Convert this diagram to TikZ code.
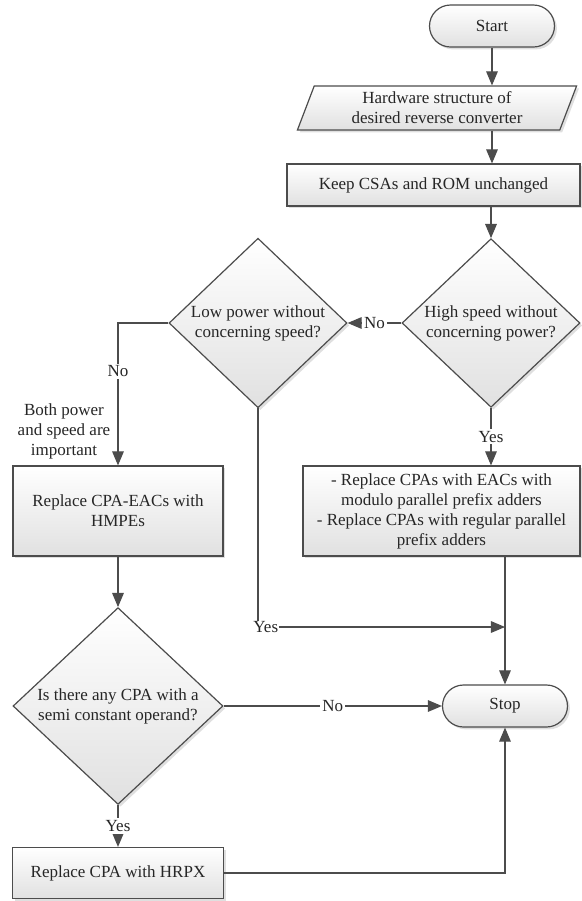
\documentclass[tikz,border=0pt]{standalone}
\usepackage{fontspec}
\setmainfont{Liberation Serif}
\usetikzlibrary{arrows,positioning,calc,shapes.geometric,shadows}
\definecolor{linegray}{gray}{0.3}
\tikzstyle{base}=[draw=linegray,line width=0.6pt,top color=white,bottom color=black!12,drop shadow={shadow xshift=1.2pt,shadow yshift=-1.2pt,opacity=0.25},text=black!85,font=\fontsize{8.5}{10}\selectfont,align=center,inner sep=0pt]
\tikzstyle{terminal}=[base,rectangle,rounded corners=10.5pt,minimum width=62.5pt,minimum height=21pt]
\tikzstyle{inout}=[base,trapezium,trapezium left angle=70,trapezium right angle=110,trapezium stretches=true,minimum width=141pt,minimum height=22pt]
\tikzstyle{process}=[base,rectangle]
\tikzstyle{decision}=[base,diamond]
\tikzstyle{lbl}=[fill=white,inner sep=1pt,text=black!85,font=\fontsize{8.5}{10}\selectfont,align=center]
\tikzstyle{line}=[draw=linegray,line width=0.6pt]
\tikzstyle{arrow}=[line,-triangle 45]

\begin{document}
\begin{tikzpicture}[x=0.5pt,y=-0.5pt]
\useasboundingbox (0,0) rectangle (582,901);
\node [terminal] (start) at (492,26) {Start};
\node [inout] (hw) at (437,108) {Hardware structure of\\desired reverse converter};
\node [process,minimum width=146.5pt,minimum height=21pt] (keep) at (433.5,185) {Keep CSAs and ROM unchanged};
\node [decision,minimum width=89pt,minimum height=80pt] (high) at (491,323) {High speed without\\concerning power?};
\node [decision,minimum width=89pt,minimum height=80pt] (low) at (258,323) {Low power without\\concerning speed?};
\node [lbl,fill=none] (both) at (64,431) {Both power\\and speed are\\important};
\node [process,minimum width=105pt,minimum height=45pt] (cpaeac) at (118,511) {Replace CPA-EACs with\\HMPEs};
\node [process,minimum width=138.5pt,minimum height=45pt] (prefix) at (441.5,511)
  {- Replace CPAs with EACs with\\modulo parallel prefix adders\\- Replace CPAs with regular parallel\\prefix adders};
\node [decision,minimum width=105pt,minimum height=93pt] (semi) at (118,706) {Is there any CPA with a\\semi constant operand?};
\node [terminal] (stop) at (505,706) {Stop};
\node [process,minimum width=105.5pt,minimum height=25.5pt] (hrpx) at (118,873) {Replace CPA with HRPX};
\node [lbl,fill=none,inner sep=0pt,anchor=west] (lowyes) at (253,627) {Yes};

% main column
\draw [arrow] (start.south) -- (start.south |- hw.north);
\draw [arrow] (start.south |- hw.south) -- (start.south |- keep.north);
\draw [arrow] (high.north |- keep.south) -- (high.north);
\draw [arrow] (high.west) -- node[lbl]{No} (low.east);
\draw [arrow] (high.south) -- node[lbl]{Yes} (high.south |- prefix.north);
\draw [arrow] (stop.north |- prefix.south) -- (stop.north);
% left branch
\draw [arrow] (low.west) -| node[lbl,pos=0.67]{No} (cpaeac.north);
\draw [line] (low.south) -- (low.south |- lowyes.north);
\draw [arrow] (lowyes.east) -- (stop.north |- lowyes.east);
\draw [arrow] (cpaeac.south) -- (semi.north);
\draw [arrow] (semi.east) -- node[lbl]{No} (stop.west);
\draw [arrow] (semi.south) -- node[lbl]{Yes} (hrpx.north);
\draw [arrow] (hrpx.east) -| (stop.south);
\end{tikzpicture}
\end{document}
